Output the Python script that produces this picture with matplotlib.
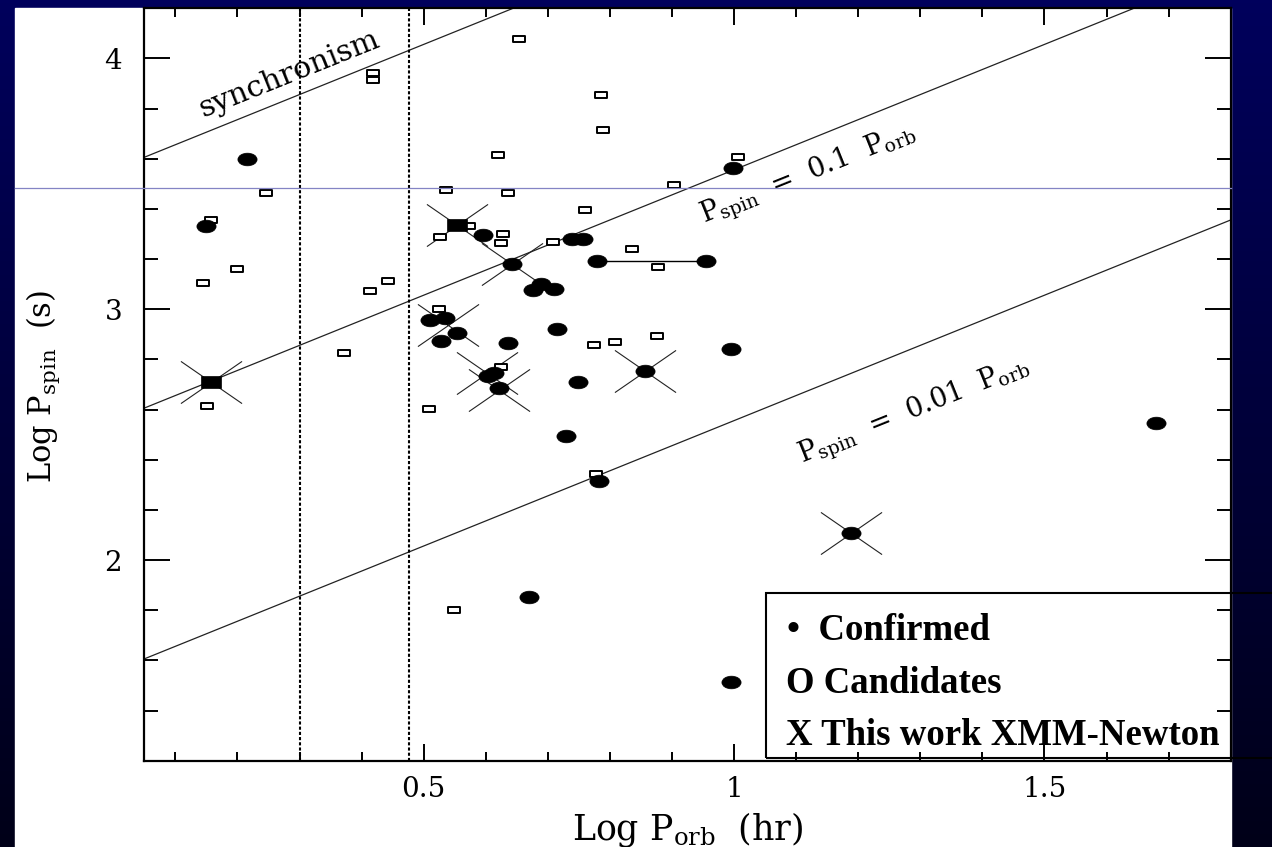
import numpy as np
import matplotlib.pyplot as plt
from matplotlib.path import Path
from matplotlib.transforms import Affine2D
from matplotlib.patches import Rectangle
from matplotlib.lines import Line2D
from matplotlib.colors import LinearSegmentedColormap

plt.rcParams['mathtext.fontset'] = 'dejavuserif'

# confirmed intermediate polars (filled)
conf_x = [0.216, 0.149, 0.596, 0.739, 0.757, 0.779, 0.955, 0.676, 0.689, 0.710,
          0.999, 0.511, 0.535, 0.554, 0.528, 0.636, 0.715, 0.749, 0.995, 0.729,
          0.783, 0.669, 0.995, 1.680, 0.604, 0.621, 0.613, 0.643, 0.857, 1.189]
conf_y = [3.601, 3.332, 3.295, 3.281, 3.281, 3.192, 3.192, 3.075, 3.099, 3.082,
          3.565, 2.959, 2.966, 2.906, 2.873, 2.866, 2.922, 2.710, 2.840, 2.496,
          2.317, 1.852, 1.515, 2.547, 2.733, 2.687, 2.745, 3.182, 2.753, 2.108]
# confirmed, drawn as filled squares
fsq_x = [0.157, 0.554]
fsq_y = [2.711, 3.335]
# candidates (open squares)
cand_x = [0.418, 0.418, 0.246, 0.157, 0.200, 0.144, 0.414, 0.442, 0.371, 0.151,
          0.653, 0.785, 0.789, 0.620, 0.536, 0.636, 0.903, 1.006, 0.760, 0.573,
          0.527, 0.628, 0.624, 0.709, 0.836, 0.878, 0.525, 0.774, 0.809, 0.876,
          0.625, 0.509, 0.778, 0.549]
cand_y = [3.941, 3.913, 3.465, 3.356, 3.159, 3.103, 3.071, 3.112, 2.826, 2.616,
          4.077, 3.855, 3.714, 3.617, 3.474, 3.463, 3.497, 3.609, 3.397, 3.333,
          3.289, 3.301, 3.265, 3.267, 3.242, 3.168, 3.002, 2.856, 2.870, 2.893,
          2.770, 2.603, 2.345, 1.802]
# this work (XMM-Newton), big crosses
xmm_x = [0.157, 0.554, 0.643, 0.539, 0.602, 0.621, 0.857, 1.189]
xmm_y = [2.711, 3.335, 3.182, 2.939, 2.746, 2.680, 2.753, 2.108]
# bar joining two orbital periods of one source
bar_x = [0.779, 0.955]
bar_y = [3.192, 3.192]

# reference lines, end points read at x = 0.05 and x = 1.8
line_x = [0.05, 1.8]
sync_y = [3.606, 5.356]
p01_y = [2.606, 4.356]
p001_y = [1.606, 3.356]
gap_x = [0.301, 0.477]  # period gap edges

W, H = 1272, 847
fig = plt.figure(figsize=(W / 100, H / 100), dpi=100)

# background: navy gradient + white panel
bg = fig.add_axes([0, 0, 1, 1], zorder=-5)
bg.axis('off')
cm = LinearSegmentedColormap.from_list('navy', ['#00005c', '#000018'])
grad = np.linspace(0, 1, 256).reshape(-1, 1)
bg.imshow(grad, extent=[0, W, H, 0], aspect='auto', cmap=cm)
bg.add_patch(Rectangle((15, 8.3), 1230.7 - 15, H - 8.3, color='white'))
bg.set_xlim(0, W)
bg.set_ylim(H, 0)

ax = fig.add_axes([144.3 / W, 1 - 760.7 / H, (1230.7 - 144.3) / W, (760.7 - 8.3) / H])
ax.set_facecolor('none')
ax.set_xlim(0.05, 1.8)
ax.set_ylim(1.2, 4.2)

for yy in (sync_y, p01_y, p001_y):
    ax.plot(line_x, yy, color='#222222', lw=0.9, zorder=1)
for gx in gap_x:
    ax.axvline(gx, color='black', lw=1.5, ls=(0, (1.5, 1.0)), zorder=1)
ax.plot(bar_x, bar_y, color='black', lw=1.0, zorder=1)

ell = Path.unit_circle().transformed(Affine2D().scale(1, 0.66))
box_f = Path([(-1, -0.65), (1, -0.65), (1, 0.65), (-1, 0.65), (-1, -0.65)], closed=True)
box_o = Path([(-1, -0.62), (1, -0.62), (1, 0.62), (-1, 0.62), (-1, -0.62)], closed=True)
cross = Path([(-1, -0.69), (1, 0.69), (-1, 0.69), (1, -0.69)],
             [Path.MOVETO, Path.LINETO, Path.MOVETO, Path.LINETO])

ax.plot(xmm_x, xmm_y, ls='none', marker=cross, ms=44, mfc='none',
        mec='#222222', mew=0.8, zorder=2)
ax.plot(cand_x, cand_y, ls='none', marker=box_o, ms=8.0, mfc='white',
        mec='black', mew=1.4, zorder=3)
ax.plot(conf_x, conf_y, ls='none', marker=ell, ms=13.8, mfc='black',
        mec='black', mew=0.5, zorder=4)
ax.plot(fsq_x, fsq_y, ls='none', marker=box_f, ms=13.8, mfc='black',
        mec='black', mew=0.5, zorder=4)

# line labels
ax.text(0.283, 3.937, 'synchronism', rotation=21.9, rotation_mode='anchor',
        ha='center', va='center', fontsize=21.5, family='DejaVu Serif')
ax.text(1.12, 3.538, r'P$_{\rm spin}$  =  0.1  P$_{\rm orb}$', rotation=21.9,
        rotation_mode='anchor', ha='center', va='center', fontsize=19.5,
        family='DejaVu Serif')
ax.text(1.29, 2.592, r'P$_{\rm spin}$  =  0.01  P$_{\rm orb}$', rotation=21.9,
        rotation_mode='anchor', ha='center', va='center', fontsize=19.5,
        family='DejaVu Serif')

# axes styling (PGPLOT-like inward ticks on all sides)
ax.set_xticks([0.5, 1, 1.5])
ax.set_xticklabels(['0.5', '1', '1.5'])
ax.set_xticks(np.arange(0.1, 1.8, 0.1), minor=True)
ax.set_yticks([2, 3, 4])
ax.set_yticklabels(['2', '3', '4'])
ax.set_yticks(np.arange(1.4, 4.2, 0.2), minor=True)
ax.tick_params(which='both', direction='in', top=True, right=True, width=1.4, color='black')
ax.tick_params(axis='x', which='major', length=12.5, pad=11, labelsize=20)
ax.tick_params(axis='x', which='minor', length=6.5)
ax.tick_params(axis='y', which='major', length=18.5, pad=16, labelsize=20)
ax.tick_params(axis='y', which='minor', length=10)
for lab in ax.get_xticklabels() + ax.get_yticklabels():
    lab.set_family('DejaVu Serif')
for sp in ax.spines.values():
    sp.set_linewidth(1.6)

ax.set_xlabel(r'Log P$_{\rm orb}$  (hr)', fontsize=25, family='DejaVu Serif')
ax.xaxis.set_label_coords(0.5, -0.066)
ax.set_ylabel(r'Log P$_{\rm spin}$  (s)', fontsize=22, family='DejaVu Serif')
ax.yaxis.set_label_coords(-0.076, 0.497)

# thin horizontal artefact line across the panel
fig.add_artist(Line2D([15 / W, 1230.7 / W], [1 - 188.3 / H, 1 - 188.3 / H],
                      transform=fig.transFigure, color='#8484c4', lw=0.9, zorder=5))

# legend box (open to the right)
fig.add_artist(Rectangle((765.7 / W, 1 - 758.3 / H), (1300 - 765.7) / W, 165 / H,
                         transform=fig.transFigure, fill=False, ec='black',
                         lw=1.5, zorder=6))
leg_font = dict(family='Liberation Serif', weight='bold', fontsize=26.5,
                va='baseline', ha='left', zorder=7)
fig.text(787 / W, 1 - 640 / H, '\u2022  Confirmed', **leg_font)
fig.text(786 / W, 1 - 693 / H, 'O Candidates', **leg_font)
fig.text(786 / W, 1 - 745 / H, 'X This work XMM-Newton', **leg_font)

fig.savefig('out.png', dpi=100)
